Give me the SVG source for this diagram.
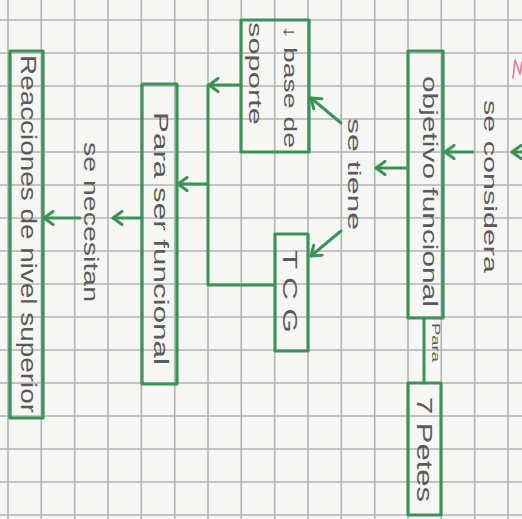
<svg xmlns="http://www.w3.org/2000/svg" width="522" height="519" viewBox="0 0 522 519">
  <defs>
    <style>
      .grid { stroke: #b4b4b4; stroke-width: 1.6; fill: none; }
      .box { fill: none; stroke: #3c9358; stroke-width: 3.2; stroke-linejoin: round; }
      .wire { fill: none; stroke: #3c9358; stroke-width: 3; stroke-linecap: round; stroke-linejoin: round; }
      .lbl { font-family: "Liberation Sans", "DejaVu Sans", sans-serif; fill: #5a5a5a; }
    </style>
    <marker id="head" viewBox="-12 -8 14 16" markerWidth="14" markerHeight="16" refX="0" refY="0" orient="auto" markerUnits="userSpaceOnUse">
      <path d="M-9,-6.5 L0,0 L-9,6.5" fill="none" stroke="#3c9358" stroke-width="3" stroke-linecap="round" stroke-linejoin="round"/>
    </marker>
  </defs>

  <!-- squared paper -->
  <rect x="0" y="0" width="522" height="519" fill="#f6f6f4"/>
  <path class="grid" d="M8,0V519 M41.3,0V519 M74.7,0V519 M108,0V519 M141.3,0V519 M174.7,0V519 M208,0V519 M241.3,0V519 M274.7,0V519 M308,0V519 M341.3,0V519 M374.7,0V519 M408,0V519 M441.3,0V519 M474.7,0V519 M508,0V519
    M0,20H522 M0,53H522 M0,86H522 M0,119H522 M0,152H522 M0,185H522 M0,218H522 M0,251H522 M0,284H522 M0,317H522 M0,350H522 M0,383H522 M0,416H522 M0,449H522 M0,482H522 M0,515H522"/>

  <!-- pink pen mark at the top edge -->
  <path d="M513,78 L515,60 L520,74 L522,62" fill="none" stroke="#e3799a" stroke-width="1.6" stroke-linecap="round" stroke-linejoin="round"/>

  <!-- connectors -->
  <g id="connectors">
    <line class="wire" x1="522" y1="152" x2="512" y2="152" marker-end="url(#head)"/>
    <line class="wire" x1="473" y1="152" x2="445" y2="152" marker-end="url(#head)"/>
    <line class="wire" x1="408" y1="168" x2="376" y2="168" marker-end="url(#head)"/>
    <line class="wire" x1="341" y1="123" x2="311" y2="98" marker-end="url(#head)"/>
    <line class="wire" x1="341" y1="231" x2="311" y2="256" marker-end="url(#head)"/>
    <line class="wire" x1="241" y1="85" x2="209" y2="85" marker-end="url(#head)"/>
    <polyline class="wire" points="208,85 208,285 275,285"/>
    <line class="wire" x1="208" y1="184" x2="178" y2="184" marker-end="url(#head)"/>
    <line class="wire" x1="142" y1="218" x2="113" y2="218" marker-end="url(#head)"/>
    <line class="wire" x1="80" y1="218" x2="44" y2="218" marker-end="url(#head)"/>
    <line class="wire" x1="424" y1="318" x2="424" y2="383"/>
    <text class="lbl" font-size="18" transform="translate(484,100) rotate(90)" textLength="173" lengthAdjust="spacingAndGlyphs">se considera</text>
    <text class="lbl" font-size="18" transform="translate(348,118) rotate(90)" textLength="112" lengthAdjust="spacingAndGlyphs">se tiene</text>
    <text class="lbl" font-size="20" transform="translate(84,142) rotate(90)" textLength="160" lengthAdjust="spacingAndGlyphs">se necesitan</text>
    <text class="lbl" font-size="11" transform="translate(432,323) rotate(90)" textLength="39" lengthAdjust="spacingAndGlyphs">Para</text>
  </g>

  <!-- nodes -->
  <g id="objetivo">
    <rect class="box" x="408" y="51" width="35" height="267"/>
    <text class="lbl" font-size="20" transform="translate(423,76) rotate(90)" textLength="231" lengthAdjust="spacingAndGlyphs">objetivo funcional</text>
  </g>

  <g id="petes">
    <rect class="box" x="408" y="383" width="33" height="132"/>
    <text class="lbl" font-size="22" transform="translate(417,397) rotate(90)" textLength="105" lengthAdjust="spacingAndGlyphs">7 Petes</text>
  </g>

  <g id="base">
    <rect class="box" x="241" y="20" width="68" height="132"/>
    <text class="lbl" font-size="18" transform="translate(284,25) rotate(90)" textLength="123" lengthAdjust="spacingAndGlyphs">↓ base de</text>
    <text class="lbl" font-size="18" transform="translate(249,22) rotate(90)" textLength="103" lengthAdjust="spacingAndGlyphs">soporte</text>
  </g>

  <g id="tcg">
    <rect class="box" x="275" y="234" width="33" height="117"/>
    <text class="lbl" font-size="20" transform="translate(283,250) rotate(90)" textLength="83" lengthAdjust="spacingAndGlyphs">T C G</text>
  </g>

  <g id="funcional">
    <rect class="box" x="142" y="84" width="35" height="300"/>
    <text class="lbl" font-size="20" transform="translate(154,112) rotate(90)" textLength="253" lengthAdjust="spacingAndGlyphs">Para ser funcional</text>
  </g>

  <g id="reacciones">
    <rect class="box" x="10" y="51" width="33" height="367"/>
    <text class="lbl" font-size="22" transform="translate(21,55) rotate(90)" textLength="358" lengthAdjust="spacingAndGlyphs">Reacciones de nivel superior</text>
  </g>
</svg>
